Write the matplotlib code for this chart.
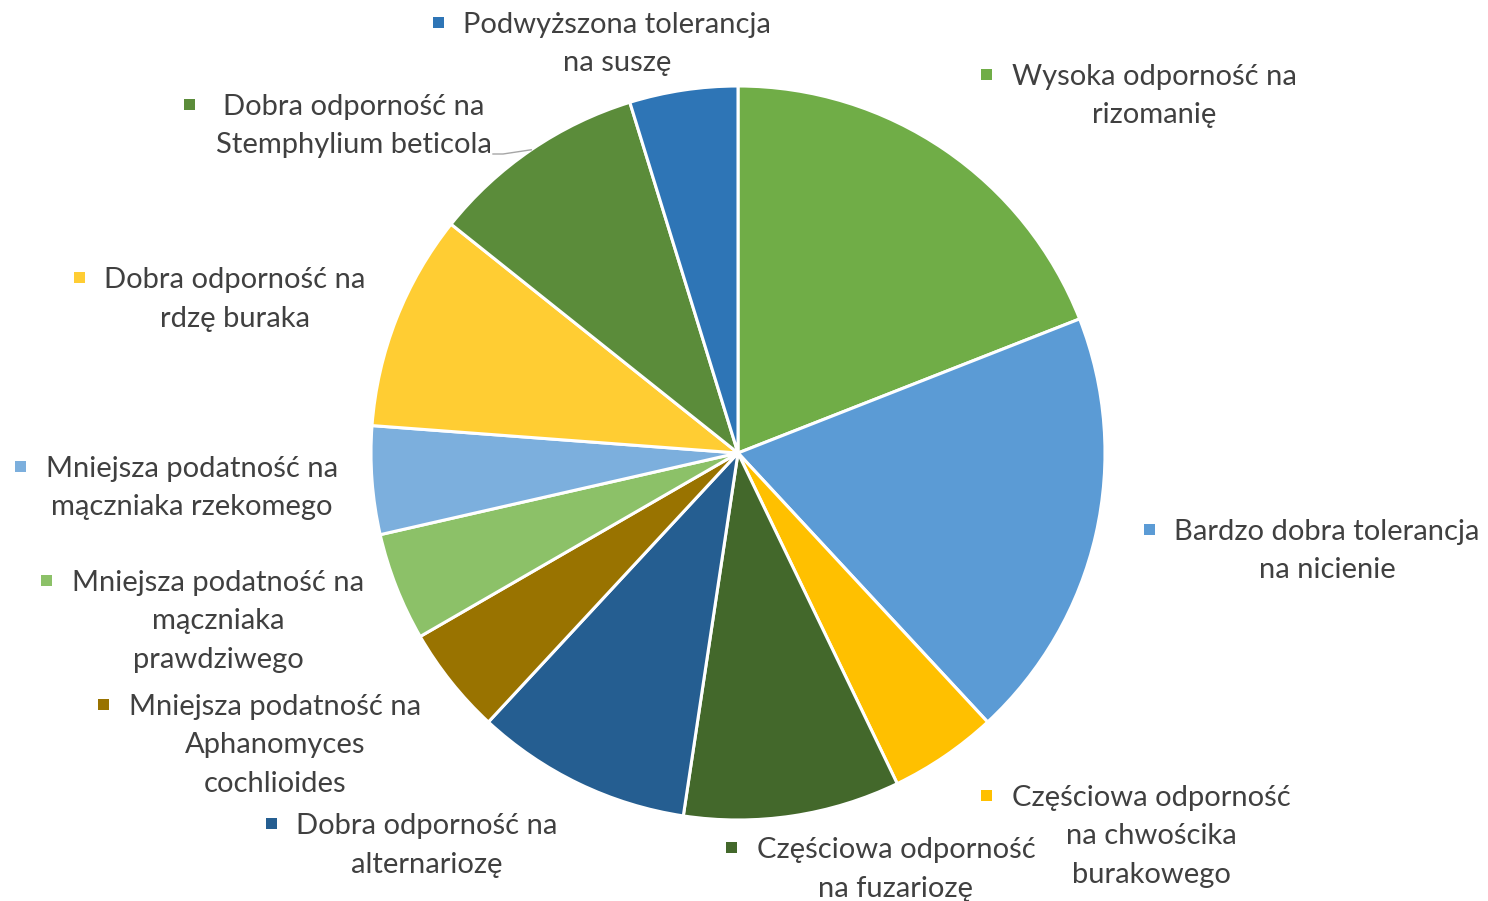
import matplotlib
matplotlib.use("Agg")
import matplotlib.pyplot as plt
from matplotlib.patches import Rectangle
import numpy as np

# ---- data ----
categories = [
    "Wysoka odporność na rizomanię",
    "Bardzo dobra tolerancja na nicienie",
    "Częściowa odporność na chwościka burakowego",
    "Częściowa odporność na fuzariozę",
    "Dobra odporność na alternariozę",
    "Mniejsza podatność na Aphanomyces cochlioides",
    "Mniejsza podatność na mączniaka prawdziwego",
    "Mniejsza podatność na mączniaka rzekomego",
    "Dobra odporność na rdzę buraka",
    "Dobra odporność na Stemphylium beticola",
    "Podwyższona tolerancja na suszę",
]
values = [4, 4, 1, 2, 2, 1, 1, 1, 2, 2, 1]
label_lines = [
    ["Wysoka odporność na", "rizomanię"],
    ["Bardzo dobra tolerancja", "na nicienie"],
    ["Częściowa odporność", "na chwościka", "burakowego"],
    ["Częściowa odporność", "na fuzariozę"],
    ["Dobra odporność na", "alternariozę"],
    ["Mniejsza podatność na", "Aphanomyces", "cochlioides"],
    ["Mniejsza podatność na", "mączniaka", "prawdziwego"],
    ["Mniejsza podatność na", "mączniaka rzekomego"],
    ["Dobra odporność na", "rdzę buraka"],
    ["Dobra odporność na", "Stemphylium beticola"],
    ["Podwyższona tolerancja", "na suszę"],
]
colors = ["#70AD47", "#5B9BD5", "#FFC000", "#43682B", "#255E91", "#997300",
          "#8CC168", "#7CAFDD", "#FFCD33", "#5B8C3A", "#2E75B6"]

# ---- layout (pixels, y from top) ----
W, H = 1488, 901
center_px = (738, 453)
radius_px = 367
label_cx = [1154, 1327, 1151, 896, 427, 275, 218, 192, 235, 354, 617]
label_base = [85, 540, 806, 858, 834, 715, 591, 477, 288, 115, 33]
marker_gap = [25, 25, 25, 25, 25, 25, 25, 25, 25, 34, 25]
line_step = 38.5
text_color = "#404040"
fs = 21

plt.rcParams['font.family'] = ['Lato', 'DejaVu Sans']
fig = plt.figure(figsize=(W / 100, H / 100), dpi=100)
ax = fig.add_axes([0, 0, 1, 1])

wedges, _ = ax.pie(values, colors=colors, startangle=90, counterclock=False,
                   center=(center_px[0], H - center_px[1]), radius=radius_px,
                   wedgeprops=dict(edgecolor="white", linewidth=2.2),
                   frame=True)
ax.set_xlim(0, W)
ax.set_ylim(0, H)
ax.set_aspect('auto')
ax.axis('off')

fig.canvas.draw()
renderer = fig.canvas.get_renderer()

for i, lines in enumerate(label_lines):
    first = None
    for j, ln in enumerate(lines):
        t = ax.text(label_cx[i], H - (label_base[i] + j * line_step), ln,
                    ha='center', va='baseline', fontsize=fs, color=text_color)
        if j == 0:
            first = t
    bb = first.get_window_extent(renderer=renderer)
    left = bb.x0
    msz = 11
    mx = left - marker_gap[i]
    my = H - (label_base[i] - 9) + 2
    ax.add_patch(Rectangle((mx - msz / 2, my - msz / 2), msz, msz,
                           facecolor=colors[i], edgecolor='none'))

# leader line for Stemphylium label (from slice mid-arc to label)
cum = np.cumsum([0] + values)
tot = float(sum(values))
k = 9
mid = 90 - 360 * (cum[k] + values[k] / 2) / tot
ex = center_px[0] + radius_px * np.cos(np.radians(mid))
ey = (H - center_px[1]) + radius_px * np.sin(np.radians(mid))
ax.plot([493, 503, ex], [H - 154, H - 154, ey], color="#A6A6A6", lw=1.0)

fig.savefig("out.png", dpi=100)
